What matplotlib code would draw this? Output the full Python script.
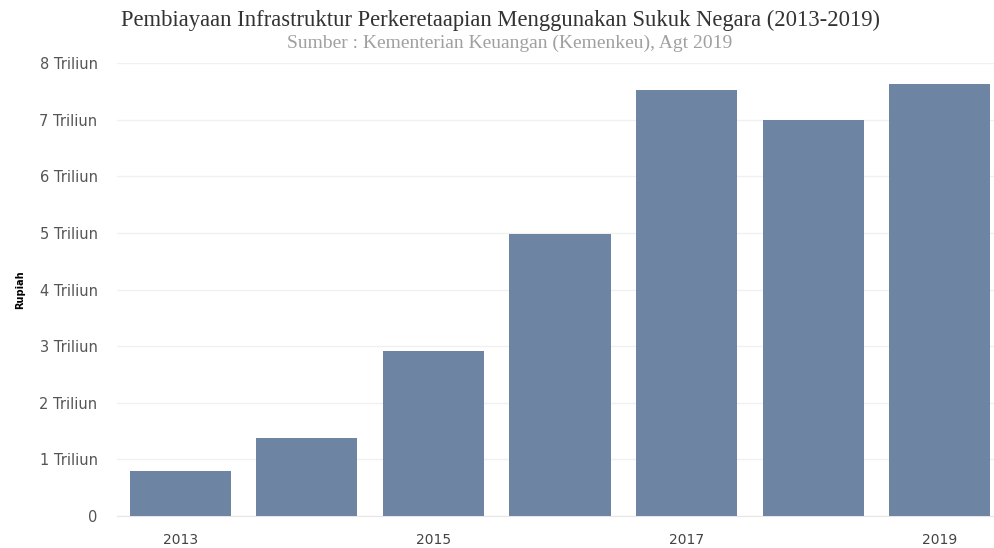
import matplotlib.pyplot as plt

# data
tahun = [2013, 2014, 2015, 2016, 2017, 2018, 2019]
nilai = [0.80, 1.38, 2.92, 4.98, 7.53, 7.00, 7.63]  # triliun rupiah
tick_tahun = [2013, 2015, 2017, 2019]
tick_y = [0, 1, 2, 3, 4, 5, 6, 7, 8]
label_y = ['0'] + ['%d Triliun' % v for v in tick_y[1:]]

fig = plt.figure(figsize=(9.95, 5.48), dpi=100)
ax = fig.add_axes([117 / 995, 32 / 548, 886 / 995, 453 / 548])

ax.bar(tahun, nilai, width=0.8, color='#6e84a3', zorder=3)

ax.set_xlim(2012.5, 2019.5)
ax.set_ylim(0, 8)
ax.set_xticks(tick_tahun)
ax.set_xticklabels([str(t) for t in tick_tahun], fontsize=10, color='#444444')
ax.set_yticks(tick_y)
ax.set_yticklabels(label_y, fontsize=10.5, color='#555555')
ax.tick_params(length=0, pad=14)
ax.tick_params(axis='x', pad=12)

ax.grid(axis='y', color='#f0f0f0', linewidth=1, zorder=0)
for s in ['top', 'right', 'left']:
    ax.spines[s].set_visible(False)
ax.spines['bottom'].set_color('#e6e6e6')

ax.set_ylabel('Rupiah', fontsize=7, fontweight='bold', labelpad=10)

fig.text(0.503, 0.962, 'Pembiayaan Infrastruktur Perkeretaapian Menggunakan Sukuk Negara (2013-2019)',
         ha='center', va='center', family='Liberation Serif', fontsize=16.3, color='#333333')
fig.text(0.512, 0.921, 'Sumber : Kementerian Keuangan (Kemenkeu), Agt 2019',
         ha='center', va='center', family='Liberation Serif', fontsize=14, color='#a0a0a0')

fig.savefig('out.png', dpi=100)
